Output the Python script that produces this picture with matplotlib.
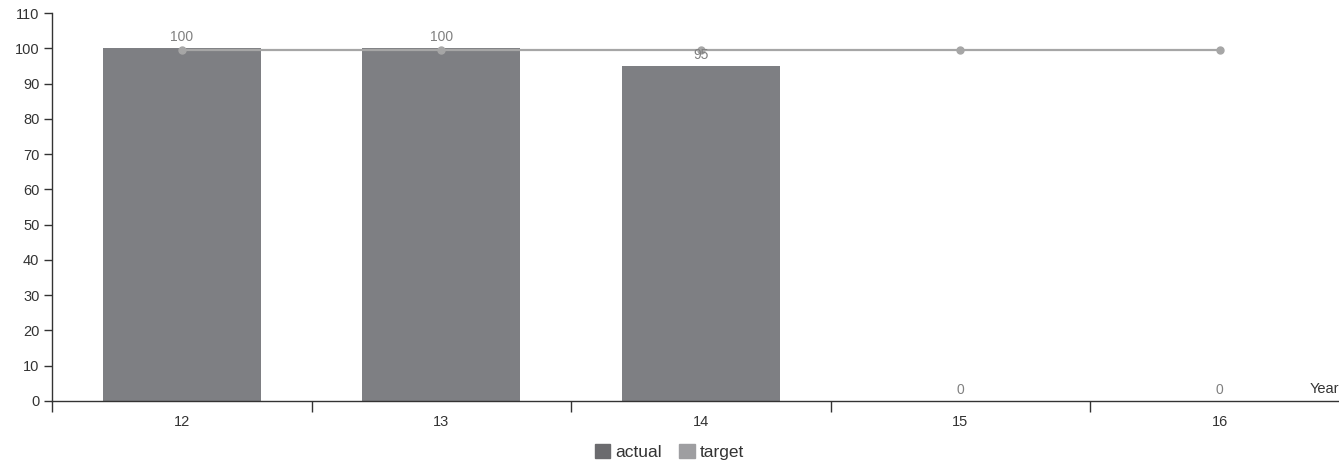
import matplotlib.pyplot as plt
from matplotlib.patches import Patch

plt.rcParams['font.family'] = ['Liberation Sans', 'DejaVu Sans']

years = ['12', '13', '14', '15', '16']
actual = [100, 100, 95, 0, 0]
target = [99.5, 99.5, 99.5, 99.5, 99.5]

bar_color = '#7e7f83'
line_color = '#a6a6a6'
text_color = '#333333'

fig = plt.figure(figsize=(13.39, 4.62), dpi=100)
ax = fig.add_axes([52 / 1339, 1 - 401 / 462, 1 - 52 / 1339, (401 - 13) / 462])

x = list(range(len(years)))
ax.bar(x, actual, width=0.61, color=bar_color, zorder=2)
ax.plot(x, target, color=line_color, lw=1.6, marker='o', ms=5, zorder=3)

for xi, v in zip(x, actual):
    ax.text(xi, v + 1.2, str(v), ha='center', va='bottom', fontsize=10, color='#808080', zorder=4)

ax.set_ylim(0, 110)
ax.set_xlim(-0.5, (1339 - 52) / 259.5 - 0.5)
ax.set_yticks(range(0, 111, 10))
ax.set_xticks([i - 0.5 for i in range(len(years))])
ax.set_xticklabels([])
ax.set_xticks(x, minor=True)
ax.set_xticklabels(years, minor=True)
ax.tick_params(axis='x', which='major', length=8, width=1, color=text_color, direction='out')
ax.tick_params(axis='x', which='minor', length=0, pad=10, labelsize=10.5, labelcolor=text_color)
ax.tick_params(axis='y', length=6, width=1, color=text_color, labelsize=10.5, labelcolor=text_color, pad=3)

for s in ['top', 'right']:
    ax.spines[s].set_visible(False)
for s in ['left', 'bottom']:
    ax.spines[s].set_color(text_color)
    ax.spines[s].set_linewidth(1)

ax.text(1.0, 0.012, 'Year', transform=ax.transAxes, ha='right', va='bottom', fontsize=10.5, color=text_color)

handles = [Patch(color='#6b6b6e', label='actual'), Patch(color='#9e9ea1', label='target')]
fig.legend(handles=handles, loc='lower center', bbox_to_anchor=(0.5, -0.03), ncol=2, frameon=False,
           fontsize=12.5, handlelength=0.9, handleheight=0.9, handletextpad=0.3, columnspacing=1.0,
           labelcolor=text_color)

fig.savefig('out.png', dpi=100)
